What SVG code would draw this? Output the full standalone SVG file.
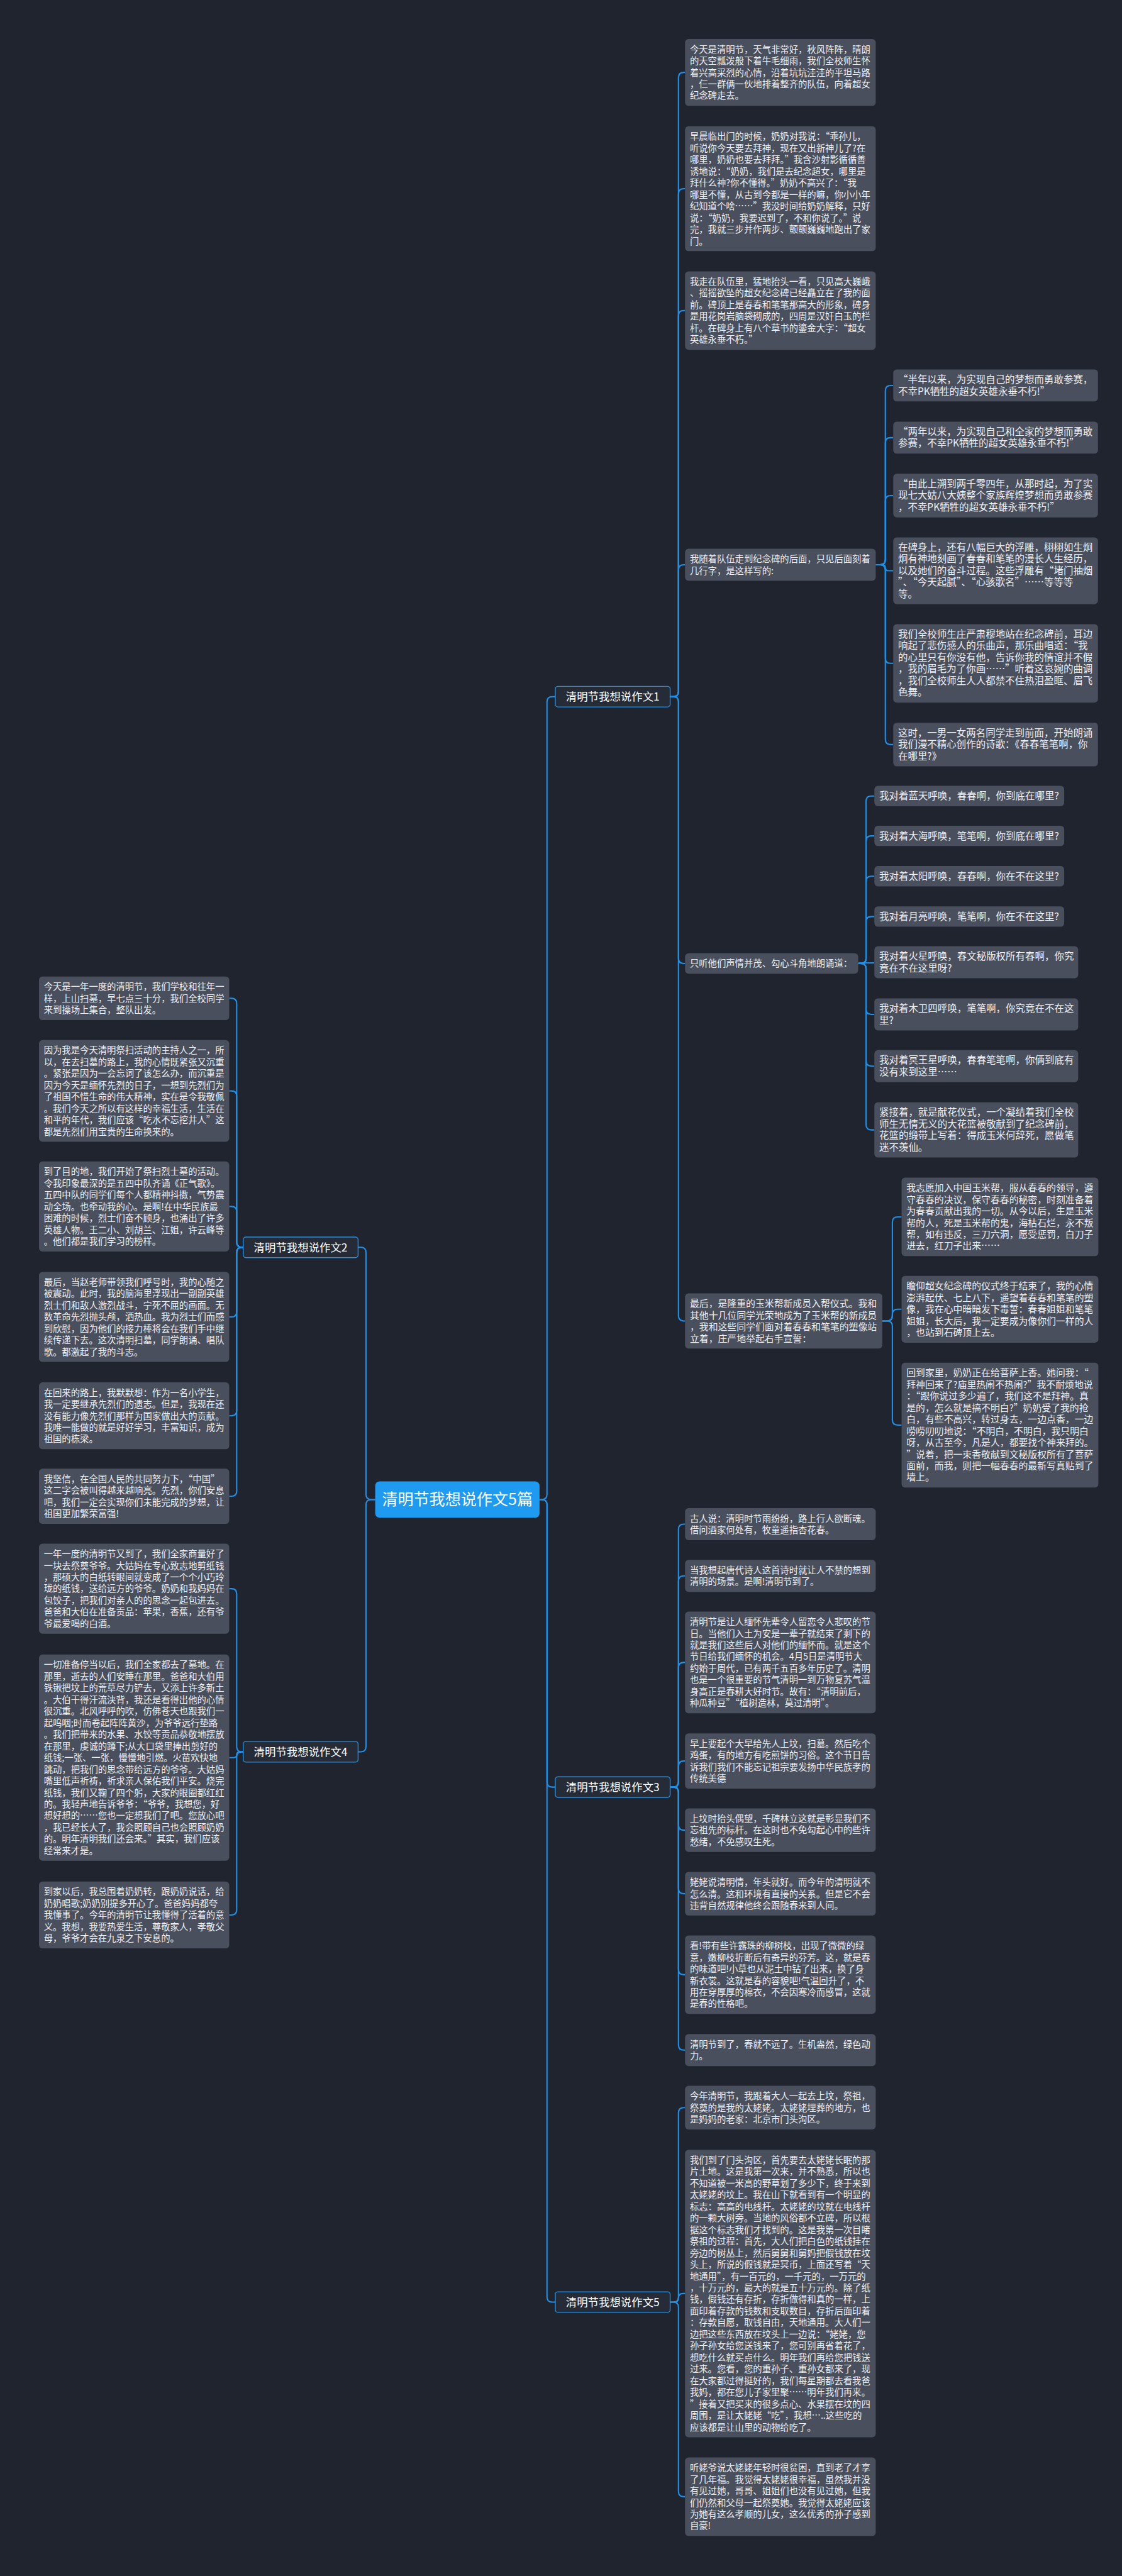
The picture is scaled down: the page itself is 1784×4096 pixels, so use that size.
<svg xmlns="http://www.w3.org/2000/svg" width="1784" height="4096" viewBox="0 0 1784 4096">
<style>
.n{fill:#4a4f5e}
.t{fill:#eef0f3;font-family:"Noto Sans CJK SC","Noto Sans",sans-serif}
.f1{font-size:20.6px}
.f2{font-size:22.2px}
.f3{font-size:21.35px}
.c{fill:none;stroke:#1e90e8;stroke-width:3}
.br{fill:#262b38;stroke:#1e90e8;stroke-width:2}
.bt{fill:#ffffff;font-family:"Noto Sans CJK SC","Noto Sans",sans-serif;font-size:25px;text-anchor:middle}
</style>
<rect x="0" y="0" width="1784" height="4096" fill="#20242f"/>
<g transform="scale(0.6969)">
<g id="connectors">
<path class="c" d="M1231 3421.5 H1236 Q1248 3421.5 1248 3409.5 V1601.5 Q1248 1589.5 1260 1589.5 H1267"/>
<path class="c" d="M1231 3421.5 H1236 Q1248 3421.5 1248 3433.5 V4065.5 Q1248 4077.5 1260 4077.5 H1267"/>
<path class="c" d="M1231 3421.5 H1236 Q1248 3421.5 1248 3433.5 V5240.6 Q1248 5252.6 1260 5252.6 H1267"/>
<path class="c" d="M856 3421.5 H847 Q835 3421.5 835 3409.5 V2857.9 Q835 2845.9 823 2845.9 H817"/>
<path class="c" d="M856 3421.5 H847 Q835 3421.5 835 3433.5 V3985 Q835 3997 823 3997 H817"/>
<path class="c" d="M1529 1589.5 H1536 Q1548 1589.5 1548 1577.5 V177.25 Q1548 165.25 1560 165.25 H1563"/>
<path class="c" d="M1529 1589.5 H1536 Q1548 1589.5 1548 1577.5 V442.5 Q1548 430.5 1560 430.5 H1563"/>
<path class="c" d="M1529 1589.5 H1536 Q1548 1589.5 1548 1577.5 V720.5 Q1548 708.5 1560 708.5 H1563"/>
<path class="c" d="M1529 1589.5 H1536 Q1548 1589.5 1548 1577.5 V1300.5 Q1548 1288.5 1560 1288.5 H1563"/>
<path class="c" d="M1529 1589.5 H1536 Q1548 1589.5 1548 1601.5 V2186.25 Q1548 2198.25 1560 2198.25 H1563"/>
<path class="c" d="M1529 1589.5 H1536 Q1548 1589.5 1548 1601.5 V3002 Q1548 3014 1560 3014 H1563"/>
<path class="c" d="M1997 1288.5 H2008 Q2020 1288.5 2020 1276.5 V891.5 Q2020 879.5 2032 879.5 H2038"/>
<path class="c" d="M1997 1288.5 H2008 Q2020 1288.5 2020 1276.5 V1010.5 Q2020 998.5 2032 998.5 H2038"/>
<path class="c" d="M1997 1288.5 H2008 Q2020 1288.5 2020 1276.5 V1142.75 Q2020 1130.75 2032 1130.75 H2038"/>
<path class="c" d="M1997 1288.5 H2013 Q2020 1288.5 2020 1295.4 Q2020 1302.25 2027 1302.25 H2038"/>
<path class="c" d="M1997 1288.5 H2008 Q2020 1288.5 2020 1300.5 V1501.5 Q2020 1513.5 2032 1513.5 H2038"/>
<path class="c" d="M1997 1288.5 H2008 Q2020 1288.5 2020 1300.5 V1686.75 Q2020 1698.75 2032 1698.75 H2038"/>
<path class="c" d="M1958 2198.25 H1964 Q1976 2198.25 1976 2186.25 V1828.25 Q1976 1816.25 1988 1816.25 H1995"/>
<path class="c" d="M1958 2198.25 H1964 Q1976 2198.25 1976 2186.25 V1919.25 Q1976 1907.25 1988 1907.25 H1995"/>
<path class="c" d="M1958 2198.25 H1964 Q1976 2198.25 1976 2186.25 V2011.25 Q1976 1999.25 1988 1999.25 H1995"/>
<path class="c" d="M1958 2198.25 H1964 Q1976 2198.25 1976 2186.25 V2103.25 Q1976 2091.25 1988 2091.25 H1995"/>
<path class="c" d="M1958 2197 H1995"/>
<path class="c" d="M1958 2198.25 H1964 Q1976 2198.25 1976 2210.25 V2302.5 Q1976 2314.5 1988 2314.5 H1995"/>
<path class="c" d="M1958 2198.25 H1964 Q1976 2198.25 1976 2210.25 V2420.5 Q1976 2432.5 1988 2432.5 H1995"/>
<path class="c" d="M1958 2198.25 H1964 Q1976 2198.25 1976 2210.25 V2566 Q1976 2578 1988 2578 H1995"/>
<path class="c" d="M2013 3014 H2024 Q2036 3014 2036 3002 V2788.5 Q2036 2776.5 2048 2776.5 H2057"/>
<path class="c" d="M2013 3014 H2024 Q2036 3014 2036 3002 V2999.25 Q2036 2987.25 2048 2987.25 H2057"/>
<path class="c" d="M2013 3014 H2024 Q2036 3014 2036 3026 V3239.5 Q2036 3251.5 2048 3251.5 H2057"/>
<path class="c" d="M1529 4077.5 H1536 Q1548 4077.5 1548 4065.5 V3489.5 Q1548 3477.5 1560 3477.5 H1563"/>
<path class="c" d="M1529 4077.5 H1536 Q1548 4077.5 1548 4065.5 V3607.5 Q1548 3595.5 1560 3595.5 H1563"/>
<path class="c" d="M1529 4077.5 H1536 Q1548 4077.5 1548 4065.5 V3805 Q1548 3793 1560 3793 H1563"/>
<path class="c" d="M1529 4077.5 H1536 Q1548 4077.5 1548 4065.5 V4030 Q1548 4018 1560 4018 H1563"/>
<path class="c" d="M1529 4077.5 H1536 Q1548 4077.5 1548 4089.5 V4163.75 Q1548 4175.75 1560 4175.75 H1563"/>
<path class="c" d="M1529 4077.5 H1536 Q1548 4077.5 1548 4089.5 V4308.75 Q1548 4320.75 1560 4320.75 H1563"/>
<path class="c" d="M1529 4077.5 H1536 Q1548 4077.5 1548 4089.5 V4493.5 Q1548 4505.5 1560 4505.5 H1563"/>
<path class="c" d="M1529 4077.5 H1536 Q1548 4077.5 1548 4089.5 V4665.5 Q1548 4677.5 1560 4677.5 H1563"/>
<path class="c" d="M1529 5252.6 H1536 Q1548 5252.6 1548 5240.6 V4820.75 Q1548 4808.75 1560 4808.75 H1563"/>
<path class="c" d="M1529 5252.6 H1538 Q1548 5252.6 1548 5242.8 Q1548 5233 1558 5233 H1563"/>
<path class="c" d="M1529 5252.6 H1536 Q1548 5252.6 1548 5264.6 V5684.5 Q1548 5696.5 1560 5696.5 H1563"/>
<path class="c" d="M555 2845.9 H552 Q540 2845.9 540 2833.9 V2289.75 Q540 2277.75 528 2277.75 H523"/>
<path class="c" d="M555 2845.9 H552 Q540 2845.9 540 2833.9 V2501 Q540 2489 528 2489 H523"/>
<path class="c" d="M555 2845.9 H552 Q540 2845.9 540 2833.9 V2764.75 Q540 2752.75 528 2752.75 H523"/>
<path class="c" d="M555 2845.9 H552 Q540 2845.9 540 2857.9 V2992.75 Q540 3004.75 528 3004.75 H523"/>
<path class="c" d="M555 2845.9 H552 Q540 2845.9 540 2857.9 V3218.25 Q540 3230.25 528 3230.25 H523"/>
<path class="c" d="M555 2845.9 H552 Q540 2845.9 540 2857.9 V3402 Q540 3414 528 3414 H523"/>
<path class="c" d="M555 3997 H552 Q540 3997 540 3985 V3636.75 Q540 3624.75 528 3624.75 H523"/>
<path class="c" d="M555 3997 H546.6 Q540 3997 540 4003.6 Q540 4010.25 533.4 4010.25 H523"/>
<path class="c" d="M555 3997 H552 Q540 3997 540 4009 V4357.25 Q540 4369.25 528 4369.25 H523"/>
</g>

<g id="root">
<rect x="856" y="3380" width="375" height="83" rx="10" fill="#1e9bf0"/>
<text x="1043.5" y="3434" fill="#ffffff" font-family="'Noto Sans CJK SC','Noto Sans',sans-serif" font-size="36" text-anchor="middle">清明节我想说作文5篇</text>
</g>

<g id="b1"><rect class="br" x="1267" y="1566" width="262" height="47" rx="6"/><text class="bt" x="1398" y="1598.5">清明节我想说作文1</text></g>
<g id="b3"><rect class="br" x="1267" y="4054" width="262" height="47" rx="6"/><text class="bt" x="1398" y="4086.5">清明节我想说作文3</text></g>
<g id="b5"><rect class="br" x="1267" y="5229" width="262" height="47" rx="6"/><text class="bt" x="1398" y="5261.5">清明节我想说作文5</text></g>
<g id="b2"><rect class="br" x="555" y="2822.5" width="262" height="47" rx="6"/><text class="bt" x="686" y="2855">清明节我想说作文2</text></g>
<g id="b4"><rect class="br" x="555" y="3973.5" width="262" height="47" rx="6"/><text class="bt" x="686" y="4006">清明节我想说作文4</text></g>

<g id="c1"><rect class="n" x="1563" y="89" width="435" height="152.5" rx="8"/><text class="t f1" y="120"><tspan x="1574">今天是清明节，天气非常好，秋风阵阵，晴朗</tspan><tspan x="1574" dy="26.5">的天空瓢泼般下着牛毛细雨，我们全校师生怀</tspan><tspan x="1574" dy="26.5">着兴高采烈的心情，沿着坑坑洼洼的平坦马路</tspan><tspan x="1574" dy="26.5">，仨一群俩一伙地排着整齐的队伍，向着超女</tspan><tspan x="1574" dy="26.5">纪念碑走去。</tspan></text></g>
<g id="c2"><rect class="n" x="1563" y="288" width="435" height="285" rx="8"/><text class="t f1" y="319"><tspan x="1574">早晨临出门的时候，奶奶对我说：“乖孙儿，</tspan><tspan x="1574" dy="26.5">听说你今天要去拜神，现在又出新神儿了?在</tspan><tspan x="1574" dy="26.5">哪里，奶奶也要去拜拜。”我含沙射影循循善</tspan><tspan x="1574" dy="26.5">诱地说：“奶奶，我们是去纪念超女，哪里是</tspan><tspan x="1574" dy="26.5">拜什么神?你不懂得。”奶奶不高兴了：“我</tspan><tspan x="1574" dy="26.5">哪里不懂，从古到今都是一样的嘛，你小小年</tspan><tspan x="1574" dy="26.5">纪知道个啥……”我没时间给奶奶解释，只好</tspan><tspan x="1574" dy="26.5">说：“奶奶，我要迟到了，不和你说了。”说</tspan><tspan x="1574" dy="26.5">完，我就三步并作两步、颤颤巍巍地跑出了家</tspan><tspan x="1574" dy="26.5">门。</tspan></text></g>
<g id="c3"><rect class="n" x="1563" y="619" width="435" height="179" rx="8"/><text class="t f1" y="650"><tspan x="1574">我走在队伍里，猛地抬头一看，只见高大巍峨</tspan><tspan x="1574" dy="26.5">、摇摇欲坠的超女纪念碑已经矗立在了我的面</tspan><tspan x="1574" dy="26.5">前。碑顶上是春春和笔笔那高大的形象，碑身</tspan><tspan x="1574" dy="26.5">是用花岗岩脑袋砌成的，四周是汉奸白玉的栏</tspan><tspan x="1574" dy="26.5">杆。在碑身上有八个草书的鎏金大字：“超女</tspan><tspan x="1574" dy="26.5">英雄永垂不朽。”</tspan></text></g>
<g id="c4"><rect class="n" x="1563" y="1252" width="435" height="73" rx="8"/><text class="t f1" y="1283"><tspan x="1574">我随着队伍走到纪念碑的后面，只见后面刻着</tspan><tspan x="1574" dy="26.5">几行字，是这样写的:</tspan></text></g>
<g id="c5"><rect class="n" x="1563" y="2175" width="395" height="46.5" rx="8"/><text class="t f1" y="2206"><tspan x="1574">只听他们声情并茂、勾心斗角地朗诵道：</tspan></text></g>
<g id="c6"><rect class="n" x="1563" y="2951" width="450" height="126" rx="8"/><text class="t f3" y="2982"><tspan x="1574">最后，是隆重的玉米帮新成员入帮仪式。我和</tspan><tspan x="1574" dy="26.5">其他十几位同学光荣地成为了玉米帮的新成员</tspan><tspan x="1574" dy="26.5">，我和这些同学们面对着春春和笔笔的塑像站</tspan><tspan x="1574" dy="26.5">立着，庄严地举起右手宣誓：</tspan></text></g>

<g id="s41"><rect class="n" x="2038" y="843" width="467" height="73" rx="8"/><text class="t f2" y="874"><tspan x="2049">“半年以来，为实现自己的梦想而勇敢参赛，</tspan><tspan x="2049" dy="26.5">不幸PK牺牲的超女英雄永垂不朽!”</tspan></text></g>
<g id="s42"><rect class="n" x="2038" y="962" width="467" height="73" rx="8"/><text class="t f2" y="993"><tspan x="2049">“两年以来，为实现自己和全家的梦想而勇敢</tspan><tspan x="2049" dy="26.5">参赛，不幸PK牺牲的超女英雄永垂不朽!”</tspan></text></g>
<g id="s43"><rect class="n" x="2038" y="1081" width="467" height="99.5" rx="8"/><text class="t f2" y="1112"><tspan x="2049">“由此上溯到两千零四年，从那时起，为了实</tspan><tspan x="2049" dy="26.5">现七大姑八大姨整个家族辉煌梦想而勇敢参赛</tspan><tspan x="2049" dy="26.5">，不幸PK牺牲的超女英雄永垂不朽!”</tspan></text></g>
<g id="s44"><rect class="n" x="2038" y="1226" width="467" height="152.5" rx="8"/><text class="t f2" y="1257"><tspan x="2049">在碑身上，还有八幅巨大的浮雕，栩栩如生炯</tspan><tspan x="2049" dy="26.5">炯有神地刻画了春春和笔笔的漫长人生经历，</tspan><tspan x="2049" dy="26.5">以及她们的奋斗过程。这些浮雕有“堵门抽烟</tspan><tspan x="2049" dy="26.5">”、“今天起腻”、“心骇歌名”……等等等</tspan><tspan x="2049" dy="26.5">等。</tspan></text></g>
<g id="s45"><rect class="n" x="2038" y="1424" width="467" height="179" rx="8"/><text class="t f2" y="1455"><tspan x="2049">我们全校师生庄严肃穆地站在纪念碑前，耳边</tspan><tspan x="2049" dy="26.5">响起了悲伤感人的乐曲声，那乐曲唱道：“我</tspan><tspan x="2049" dy="26.5">的心里只有你没有他，告诉你我的情谊并不假</tspan><tspan x="2049" dy="26.5">，我的眉毛为了你画……”听着这哀婉的曲调</tspan><tspan x="2049" dy="26.5">，我们全校师生人人都禁不住热泪盈眶、眉飞</tspan><tspan x="2049" dy="26.5">色舞。</tspan></text></g>
<g id="s46"><rect class="n" x="2038" y="1649" width="467" height="99.5" rx="8"/><text class="t f2" y="1680"><tspan x="2049">这时，一男一女两名同学走到前面，开始朗诵</tspan><tspan x="2049" dy="26.5">我们漫不精心创作的诗歌：《春春笔笔啊，你</tspan><tspan x="2049" dy="26.5">在哪里?》</tspan></text></g>

<g id="a1"><rect class="n" x="1995" y="1793" width="433" height="46.5" rx="8"/><text class="t f2" x="2006" y="1824">我对着蓝天呼唤，春春啊，你到底在哪里?</text></g>
<g id="a2"><rect class="n" x="1995" y="1884" width="433" height="46.5" rx="8"/><text class="t f2" x="2006" y="1915">我对着大海呼唤，笔笔啊，你到底在哪里?</text></g>
<g id="a3"><rect class="n" x="1995" y="1976" width="433" height="46.5" rx="8"/><text class="t f2" x="2006" y="2007">我对着太阳呼唤，春春啊，你在不在这里?</text></g>
<g id="a4"><rect class="n" x="1995" y="2068" width="433" height="46.5" rx="8"/><text class="t f2" x="2006" y="2099">我对着月亮呼唤，笔笔啊，你在不在这里?</text></g>
<g id="a5"><rect class="n" x="1995" y="2159" width="465" height="73" rx="8"/><text class="t f2" y="2190"><tspan x="2006">我对着火星呼唤，春文秘版权所有春啊，你究</tspan><tspan x="2006" dy="26.5">竟在不在这里呀?</tspan></text></g>
<g id="a6"><rect class="n" x="1995" y="2278" width="465" height="73" rx="8"/><text class="t f2" y="2309"><tspan x="2006">我对着木卫四呼唤，笔笔啊，你究竟在不在这</tspan><tspan x="2006" dy="26.5">里?</tspan></text></g>
<g id="a7"><rect class="n" x="1995" y="2396" width="465" height="73" rx="8"/><text class="t f2" y="2427"><tspan x="2006">我对着冥王星呼唤，春春笔笔啊，你俩到底有</tspan><tspan x="2006" dy="26.5">没有来到这里……</tspan></text></g>
<g id="a8"><rect class="n" x="1995" y="2515" width="465" height="126" rx="8"/><text class="t f2" y="2546"><tspan x="2006">紧接着，就是献花仪式，一个凝结着我们全校</tspan><tspan x="2006" dy="26.5">师生无情无义的大花篮被敬献到了纪念碑前，</tspan><tspan x="2006" dy="26.5">花篮的缎带上写着：得成玉米何辞死，愿做笔</tspan><tspan x="2006" dy="26.5">迷不羡仙。</tspan></text></g>

<g id="s61"><rect class="n" x="2057" y="2687" width="449" height="179" rx="8"/><text class="t f3" y="2718"><tspan x="2068">我志愿加入中国玉米帮，服从春春的领导，遵</tspan><tspan x="2068" dy="26.5">守春春的决议，保守春春的秘密，时刻准备着</tspan><tspan x="2068" dy="26.5">为春春贡献出我的一切。从今以后，生是玉米</tspan><tspan x="2068" dy="26.5">帮的人，死是玉米帮的鬼，海枯石烂，永不叛</tspan><tspan x="2068" dy="26.5">帮，如有违反，三刀六洞，愿受惩罚，白刀子</tspan><tspan x="2068" dy="26.5">进去，红刀子出来……</tspan></text></g>
<g id="s62"><rect class="n" x="2057" y="2911" width="449" height="152.5" rx="8"/><text class="t f3" y="2942"><tspan x="2068">瞻仰超女纪念碑的仪式终于结束了，我的心情</tspan><tspan x="2068" dy="26.5">澎湃起伏、七上八下，遥望着春春和笔笔的塑</tspan><tspan x="2068" dy="26.5">像，我在心中暗暗发下毒誓：春春姐姐和笔笔</tspan><tspan x="2068" dy="26.5">姐姐，长大后，我一定要成为像你们一样的人</tspan><tspan x="2068" dy="26.5">，也站到石碑顶上去。</tspan></text></g>
<g id="s63"><rect class="n" x="2057" y="3109" width="449" height="285" rx="8"/><text class="t f3" y="3140"><tspan x="2068">回到家里，奶奶正在给菩萨上香。她问我：“</tspan><tspan x="2068" dy="26.5">拜神回来了?庙里热闹不热闹?”我不耐烦地说</tspan><tspan x="2068" dy="26.5">：“跟你说过多少遍了，我们这不是拜神。真</tspan><tspan x="2068" dy="26.5">是的，怎么就是搞不明白?”奶奶受了我的抢</tspan><tspan x="2068" dy="26.5">白，有些不高兴，转过身去，一边点香，一边</tspan><tspan x="2068" dy="26.5">唠唠叨叨地说：“不明白，不明白，我只明白</tspan><tspan x="2068" dy="26.5">呀，从古至今，凡是人，都要找个神来拜的。</tspan><tspan x="2068" dy="26.5">”说着，把一束香敬献到文秘版权所有了菩萨</tspan><tspan x="2068" dy="26.5">面前，而我，则把一幅春春的最新写真贴到了</tspan><tspan x="2068" dy="26.5">墙上。</tspan></text></g>

<g id="d1"><rect class="n" x="1563" y="3441" width="435" height="73" rx="8"/><text class="t f1" y="3472"><tspan x="1574">古人说：清明时节雨纷纷，路上行人欲断魂。</tspan><tspan x="1574" dy="26.5">借问酒家何处有，牧童遥指杏花春。</tspan></text></g>
<g id="d2"><rect class="n" x="1563" y="3559" width="435" height="73" rx="8"/><text class="t f1" y="3590"><tspan x="1574">当我想起唐代诗人这首诗时就让人不禁的想到</tspan><tspan x="1574" dy="26.5">清明的场景。是啊!清明节到了。</tspan></text></g>
<g id="d3"><rect class="n" x="1563" y="3677" width="435" height="232" rx="8"/><text class="t f1" y="3708"><tspan x="1574">清明节是让人缅怀先辈令人留恋令人悲叹的节</tspan><tspan x="1574" dy="26.5">日。当他们入土为安是一辈子就结束了剩下的</tspan><tspan x="1574" dy="26.5">就是我们这些后人对他们的缅怀而。就是这个</tspan><tspan x="1574" dy="26.5">节日给我们缅怀的机会。4月5日是清明节大</tspan><tspan x="1574" dy="26.5">约始于周代，已有两千五百多年历史了。清明</tspan><tspan x="1574" dy="26.5">也是一个很重要的节气清明一到万物复苏气温</tspan><tspan x="1574" dy="26.5">身高正是春耕大好时节。故有：“清明前后，</tspan><tspan x="1574" dy="26.5">种瓜种豆”“植树造林，莫过清明”。</tspan></text></g>
<g id="d4"><rect class="n" x="1563" y="3955" width="435" height="126" rx="8"/><text class="t f1" y="3986"><tspan x="1574">早上要起个大早给先人上坟，扫墓。然后吃个</tspan><tspan x="1574" dy="26.5">鸡蛋，有的地方有吃煎饼的习俗。这个节日告</tspan><tspan x="1574" dy="26.5">诉我们我们不能忘记祖宗要发扬中华民族孝的</tspan><tspan x="1574" dy="26.5">传统美德</tspan></text></g>
<g id="d5"><rect class="n" x="1563" y="4126" width="435" height="99.5" rx="8"/><text class="t f1" y="4157"><tspan x="1574">上坟时抬头偶望，千碑林立这就是彰显我们不</tspan><tspan x="1574" dy="26.5">忘祖先的标杆。在这时也不免勾起心中的些许</tspan><tspan x="1574" dy="26.5">愁绪，不免感叹生死。</tspan></text></g>
<g id="d6"><rect class="n" x="1563" y="4271" width="435" height="99.5" rx="8"/><text class="t f1" y="4302"><tspan x="1574">姥姥说清明情，年头就好。而今年的清明就不</tspan><tspan x="1574" dy="26.5">怎么清。这和环境有直接的关系。但是它不会</tspan><tspan x="1574" dy="26.5">违背自然规律他终会跟随春来到人间。</tspan></text></g>
<g id="d7"><rect class="n" x="1563" y="4416" width="435" height="179" rx="8"/><text class="t f1" y="4447"><tspan x="1574">看!带有些许露珠的柳树枝，出现了微微的绿</tspan><tspan x="1574" dy="26.5">意，嫩柳枝折断后有奇异的芬芳。这，就是春</tspan><tspan x="1574" dy="26.5">的味道吧!小草也从泥土中钻了出来，换了身</tspan><tspan x="1574" dy="26.5">新衣裳。这就是春的容貌吧!气温回升了，不</tspan><tspan x="1574" dy="26.5">用在穿厚厚的棉衣，不会因寒冷而感冒，这就</tspan><tspan x="1574" dy="26.5">是春的性格吧。</tspan></text></g>
<g id="d8"><rect class="n" x="1563" y="4641" width="435" height="73" rx="8"/><text class="t f1" y="4672"><tspan x="1574">清明节到了，春就不远了。生机盎然，绿色动</tspan><tspan x="1574" dy="26.5">力。</tspan></text></g>

<g id="e1"><rect class="n" x="1563" y="4759" width="435" height="99.5" rx="8"/><text class="t f1" y="4790"><tspan x="1574">今年清明节，我跟着大人一起去上坟，祭祖，</tspan><tspan x="1574" dy="26.5">祭奠的是我的太姥姥。太姥姥埋葬的地方，也</tspan><tspan x="1574" dy="26.5">是妈妈的老家：北京市门头沟区。</tspan></text></g>
<g id="e2"><rect class="n" x="1563" y="4905" width="435" height="656" rx="8"/><text class="t f1" y="4936"><tspan x="1574">我们到了门头沟区，首先要去太姥姥长眠的那</tspan><tspan x="1574" dy="26.5">片土地。这是我第一次来，并不熟悉，所以也</tspan><tspan x="1574" dy="26.5">不知道被一米高的野草划了多少下，终于来到</tspan><tspan x="1574" dy="26.5">太姥姥的坟上。我在山下就看到有一个明显的</tspan><tspan x="1574" dy="26.5">标志：高高的电线杆。太姥姥的坟就在电线杆</tspan><tspan x="1574" dy="26.5">的一颗大树旁。当地的风俗都不立碑，所以根</tspan><tspan x="1574" dy="26.5">据这个标志我们才找到的。这是我第一次目睹</tspan><tspan x="1574" dy="26.5">祭祖的过程：首先，大人们把白色的纸钱挂在</tspan><tspan x="1574" dy="26.5">旁边的树丛上，然后舅舅和舅妈把假钱放在坟</tspan><tspan x="1574" dy="26.5">头上，所说的假钱就是冥币，上面还写着“天</tspan><tspan x="1574" dy="26.5">地通用”，有一百元的，一千元的，一万元的</tspan><tspan x="1574" dy="26.5">，十万元的，最大的就是五十万元的。除了纸</tspan><tspan x="1574" dy="26.5">钱，假钱还有存折，存折做得和真的一样，上</tspan><tspan x="1574" dy="26.5">面印着存款的钱数和支取数目，存折后面印着</tspan><tspan x="1574" dy="26.5">：存款自愿，取钱自由，天地通用。大人们一</tspan><tspan x="1574" dy="26.5">边把这些东西放在坟头上一边说：“姥姥，您</tspan><tspan x="1574" dy="26.5">孙子孙女给您送钱来了，您可别再省着花了，</tspan><tspan x="1574" dy="26.5">想吃什么就买点什么。明年我们再给您把钱送</tspan><tspan x="1574" dy="26.5">过来。您看，您的重孙子、重孙女都来了，现</tspan><tspan x="1574" dy="26.5">在大家都过得挺好的，我们每星期都去看我爸</tspan><tspan x="1574" dy="26.5">我妈，都在您儿子家里聚……明年我们再来。</tspan><tspan x="1574" dy="26.5">”接着又把买来的很多点心、水果摆在坟的四</tspan><tspan x="1574" dy="26.5">周围，是让太姥姥“吃”，我想…..这些吃的</tspan><tspan x="1574" dy="26.5">应该都是让山里的动物给吃了。</tspan></text></g>
<g id="e3"><rect class="n" x="1563" y="5607" width="435" height="179" rx="8"/><text class="t f1" y="5638"><tspan x="1574">听姥爷说太姥姥年轻时很贫困，直到老了才享</tspan><tspan x="1574" dy="26.5">了几年福。我觉得太姥姥很幸福，虽然我并没</tspan><tspan x="1574" dy="26.5">有见过她，哥哥、姐姐们也没有见过她，但我</tspan><tspan x="1574" dy="26.5">们仍然和父母一起祭奠她。我觉得太姥姥应该</tspan><tspan x="1574" dy="26.5">为她有这么孝顺的儿女，这么优秀的孙子感到</tspan><tspan x="1574" dy="26.5">自豪!</tspan></text></g>

<g id="l1"><rect class="n" x="89" y="2228" width="434" height="99.5" rx="8"/><text class="t f1" y="2259"><tspan x="100">今天是一年一度的清明节，我们学校和往年一</tspan><tspan x="100" dy="26.5">样，上山扫墓，早七点三十分，我们全校同学</tspan><tspan x="100" dy="26.5">来到操场上集合，整队出发。</tspan></text></g>
<g id="l2"><rect class="n" x="89" y="2373" width="434" height="232" rx="8"/><text class="t f1" y="2404"><tspan x="100">因为我是今天清明祭扫活动的主持人之一，所</tspan><tspan x="100" dy="26.5">以，在去扫墓的路上，我的心情既紧张又沉重</tspan><tspan x="100" dy="26.5">。紧张是因为一会忘词了该怎么办，而沉重是</tspan><tspan x="100" dy="26.5">因为今天是缅怀先烈的日子，一想到先烈们为</tspan><tspan x="100" dy="26.5">了祖国不惜生命的伟大精神，实在是令我敬佩</tspan><tspan x="100" dy="26.5">。我们今天之所以有这样的幸福生活，生活在</tspan><tspan x="100" dy="26.5">和平的年代，我们应该“吃水不忘挖井人”这</tspan><tspan x="100" dy="26.5">都是先烈们用宝贵的生命换来的。</tspan></text></g>
<g id="l3"><rect class="n" x="89" y="2650" width="434" height="205.5" rx="8"/><text class="t f1" y="2681"><tspan x="100">到了目的地，我们开始了祭扫烈士墓的活动。</tspan><tspan x="100" dy="26.5">令我印象最深的是五四中队齐诵《正气歌》。</tspan><tspan x="100" dy="26.5">五四中队的同学们每个人都精神抖擞，气势震</tspan><tspan x="100" dy="26.5">动全场。也牵动我的心。是啊!在中华民族最</tspan><tspan x="100" dy="26.5">困难的时候，烈士们奋不顾身，也涌出了许多</tspan><tspan x="100" dy="26.5">英雄人物。王二小、刘胡兰、江姐，许云峰等</tspan><tspan x="100" dy="26.5">。他们都是我们学习的榜样。</tspan></text></g>
<g id="l4"><rect class="n" x="89" y="2902" width="434" height="205.5" rx="8"/><text class="t f1" y="2933"><tspan x="100">最后，当赵老师带领我们呼号时，我的心随之</tspan><tspan x="100" dy="26.5">被震动。此时，我的脑海里浮现出一副副英雄</tspan><tspan x="100" dy="26.5">烈士们和敌人激烈战斗，宁死不屈的画面。无</tspan><tspan x="100" dy="26.5">数革命先烈抛头颅，洒热血。我为烈士们而感</tspan><tspan x="100" dy="26.5">到欣慰，因为他们的接力棒将会在我们手中继</tspan><tspan x="100" dy="26.5">续传递下去。这次清明扫墓，同学朗诵、唱队</tspan><tspan x="100" dy="26.5">歌。都激起了我的斗志。</tspan></text></g>
<g id="l5"><rect class="n" x="89" y="3154" width="434" height="152.5" rx="8"/><text class="t f1" y="3185"><tspan x="100">在回来的路上，我默默想：作为一名小学生，</tspan><tspan x="100" dy="26.5">我一定要继承先烈们的遗志。但是，我现在还</tspan><tspan x="100" dy="26.5">没有能力像先烈们那样为国家做出大的贡献。</tspan><tspan x="100" dy="26.5">我唯一能做的就是好好学习，丰富知识，成为</tspan><tspan x="100" dy="26.5">祖国的栋梁。</tspan></text></g>
<g id="l6"><rect class="n" x="89" y="3351" width="434" height="126" rx="8"/><text class="t f1" y="3382"><tspan x="100">我坚信，在全国人民的共同努力下，“中国”</tspan><tspan x="100" dy="26.5">这二字会被叫得越来越响亮。先烈，你们安息</tspan><tspan x="100" dy="26.5">吧，我们一定会实现你们未能完成的梦想，让</tspan><tspan x="100" dy="26.5">祖国更加繁荣富强!</tspan></text></g>
<g id="l7"><rect class="n" x="89" y="3522" width="434" height="205.5" rx="8"/><text class="t f1" y="3553"><tspan x="100">一年一度的清明节又到了，我们全家商量好了</tspan><tspan x="100" dy="26.5">一块去祭奠爷爷。大姑妈在专心致志地剪纸钱</tspan><tspan x="100" dy="26.5">，那硕大的白纸转眼间就变成了一个个小巧玲</tspan><tspan x="100" dy="26.5">珑的纸钱，送给远方的爷爷。奶奶和我妈妈在</tspan><tspan x="100" dy="26.5">包饺子，把我们对亲人的的思念一起包进去。</tspan><tspan x="100" dy="26.5">爸爸和大伯在准备贡品：苹果，香蕉，还有爷</tspan><tspan x="100" dy="26.5">爷最爱喝的白酒。</tspan></text></g>
<g id="l8"><rect class="n" x="89" y="3775" width="434" height="470.5" rx="8"/><text class="t f1" y="3806"><tspan x="100">一切准备停当以后，我们全家都去了墓地。在</tspan><tspan x="100" dy="26.5">那里，逝去的人们安睡在那里。爸爸和大伯用</tspan><tspan x="100" dy="26.5">铁锹把坟上的荒草尽力铲去，又添上许多新土</tspan><tspan x="100" dy="26.5">。大伯干得汗流浃背，我还是看得出他的心情</tspan><tspan x="100" dy="26.5">很沉重。北风呼呼的吹，仿佛苍天也跟我们一</tspan><tspan x="100" dy="26.5">起呜咽;时而卷起阵阵黄沙，为爷爷远行垫路</tspan><tspan x="100" dy="26.5">。我们把带来的水果、水饺等贡品恭敬地摆放</tspan><tspan x="100" dy="26.5">在那里，虔诚的蹲下;从大口袋里捧出剪好的</tspan><tspan x="100" dy="26.5">纸钱;一张、一张，慢慢地引燃。火苗欢快地</tspan><tspan x="100" dy="26.5">跳动，把我们的思念带给远方的爷爷。大姑妈</tspan><tspan x="100" dy="26.5">嘴里低声祈祷，祈求亲人保佑我们平安。烧完</tspan><tspan x="100" dy="26.5">纸钱，我们又鞠了四个躬，大家的眼圈都红红</tspan><tspan x="100" dy="26.5">的。我轻声地告诉爷爷：“爷爷，我想您，好</tspan><tspan x="100" dy="26.5">想好想的……您也一定想我们了吧。您放心吧</tspan><tspan x="100" dy="26.5">，我已经长大了，我会照顾自己也会照顾奶奶</tspan><tspan x="100" dy="26.5">的。明年清明我们还会来。”其实，我们应该</tspan><tspan x="100" dy="26.5">经常来才是。</tspan></text></g>
<g id="l9"><rect class="n" x="89" y="4293" width="434" height="152.5" rx="8"/><text class="t f1" y="4324"><tspan x="100">到家以后，我总围着奶奶转，跟奶奶说话，给</tspan><tspan x="100" dy="26.5">奶奶唱歌;奶奶别提多开心了。爸爸妈妈都夸</tspan><tspan x="100" dy="26.5">我懂事了。今年的清明节让我懂得了活着的意</tspan><tspan x="100" dy="26.5">义。我想，我要热爱生活，尊敬家人，孝敬父</tspan><tspan x="100" dy="26.5">母，爷爷才会在九泉之下安息的。</tspan></text></g>
</g>
</svg>
